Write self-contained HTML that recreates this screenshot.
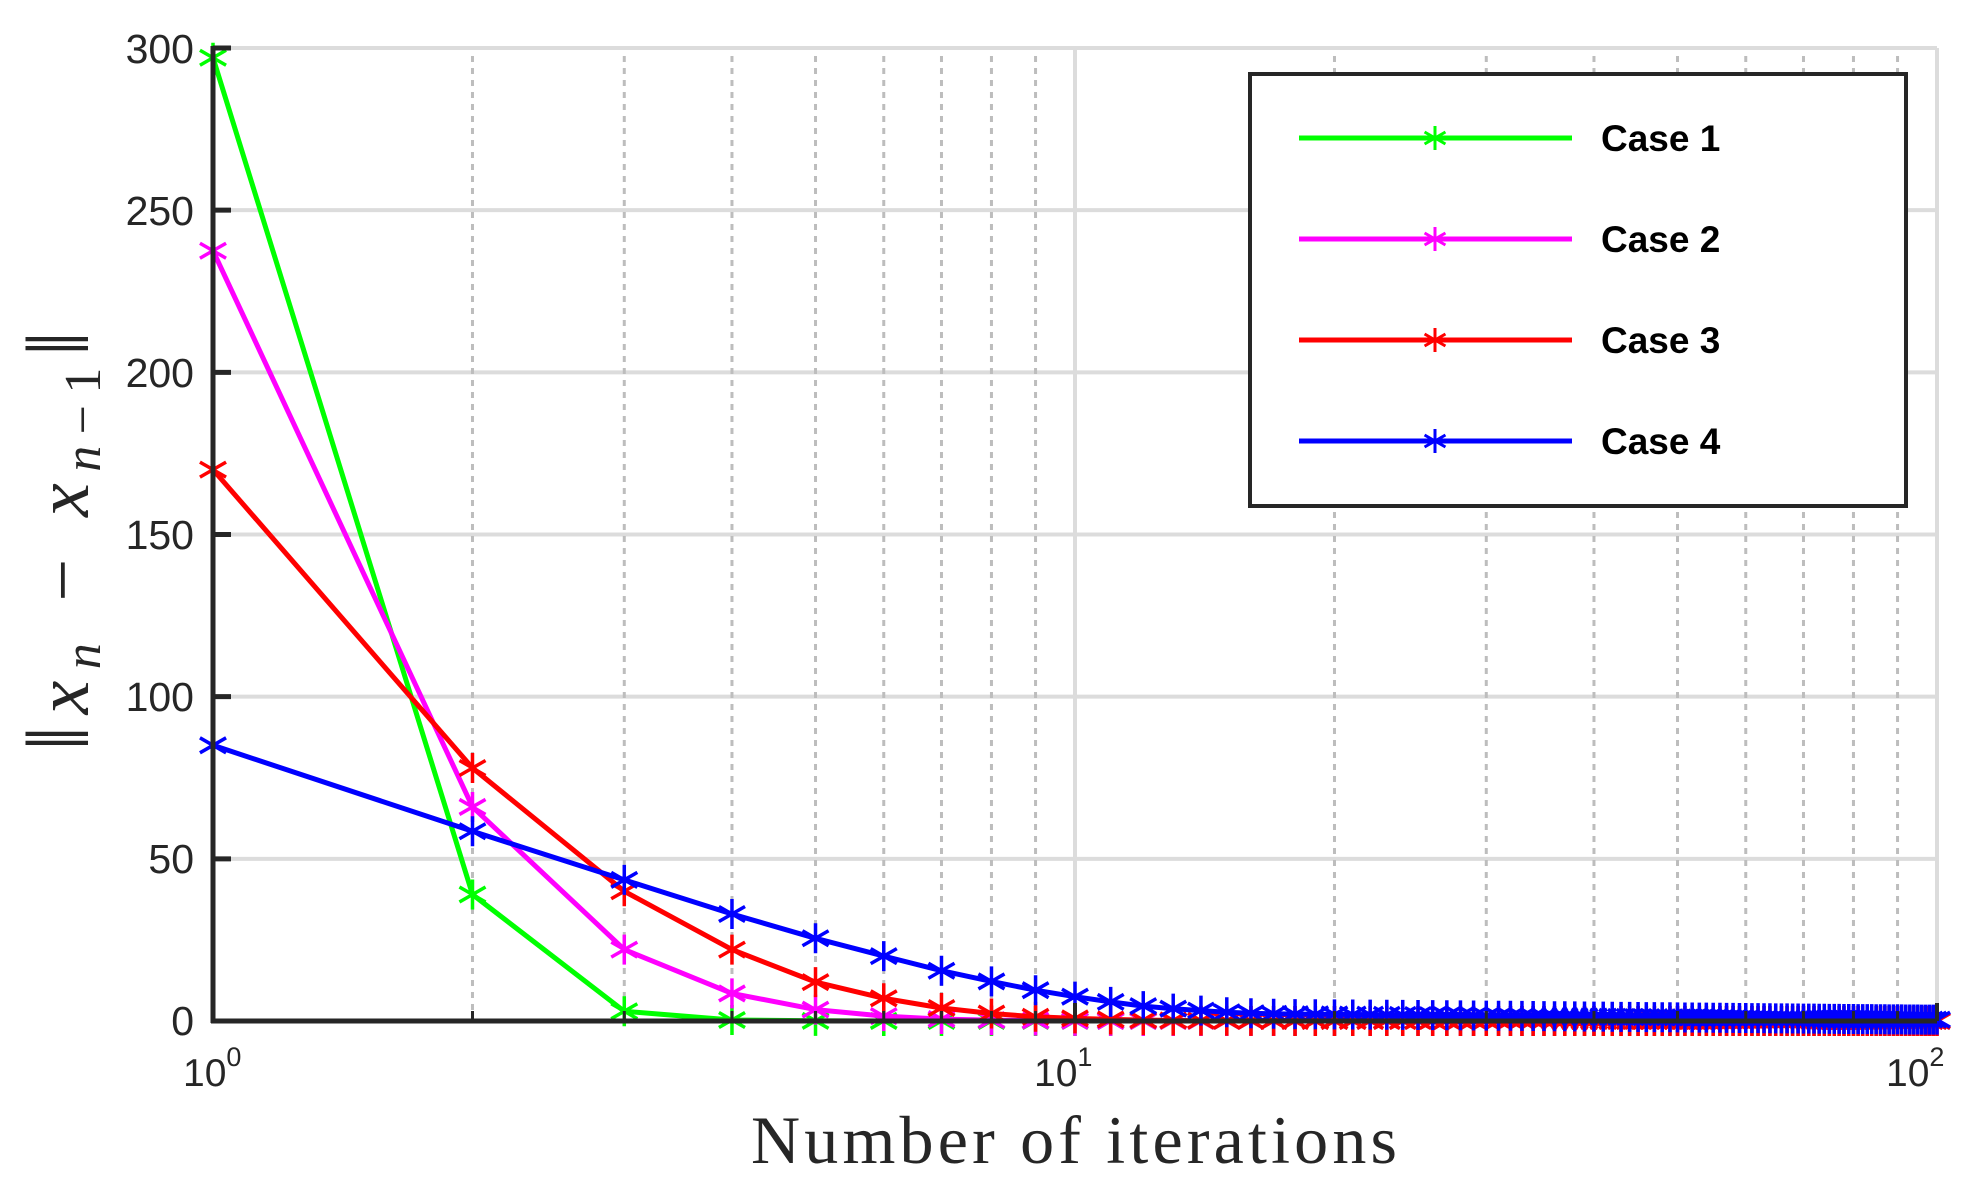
<!DOCTYPE html>
<html><head><meta charset="utf-8"><style>
html,body{margin:0;padding:0;background:#fff;}
svg{display:block;}
</style></head><body>
<svg id="s" width="1987" height="1201" viewBox="0 0 1987 1201" xmlns="http://www.w3.org/2000/svg">
<rect width="1987" height="1201" fill="#fff"/>
<g id="grid"></g>
<g id="series"></g>
<g id="axes"></g>
<g font-family="Liberation Sans, sans-serif" font-size="41" fill="#262626" text-anchor="end">
<text x="194" y="63">300</text>
<text x="194" y="225">250</text>
<text x="194" y="387">200</text>
<text x="194" y="549">150</text>
<text x="194" y="711">100</text>
<text x="194" y="873">50</text>
<text x="194" y="1035">0</text>
</g>
<g font-family="Liberation Sans, sans-serif" font-size="39" fill="#262626">
<text x="183" y="1086">10<tspan font-size="27" dy="-20">0</tspan></text>
<text x="1034" y="1086">10<tspan font-size="27" dy="-20">1</tspan></text>
<text x="1886" y="1086">10<tspan font-size="27" dy="-20">2</tspan></text>
</g>
<text x="1074" y="1163" font-family="Liberation Serif, serif" font-size="68" fill="#262626" text-anchor="middle" textLength="646">Number of iterations</text>
<text transform="translate(88,541) rotate(-90)" font-family="Liberation Serif, serif" font-size="76" fill="#262626" text-anchor="middle" textLength="420"><tspan font-size="90">‖</tspan><tspan font-style="italic">x</tspan><tspan font-style="italic" font-size="52" dy="12">n</tspan><tspan dy="-12"> − </tspan><tspan font-style="italic">x</tspan><tspan font-size="52" dy="12"><tspan font-style="italic">n</tspan>−1</tspan><tspan dy="-12" font-size="90">‖</tspan></text>
<g id="legend">
<rect x="1250" y="74" width="656" height="432" fill="#fff" stroke="#262626" stroke-width="4"/>
</g>
</svg>
<script>
var NS="http://www.w3.org/2000/svg";
function el(p,t,a){var e=document.createElementNS(NS,t);for(var k in a)e.setAttribute(k,a[k]);p.appendChild(e);return e;}
var L=213,R=1937,T=48,B=1021;
function X(t){return L+(R-L)*Math.log10(t)/2;}
function Y(v){return B-v*(B-T)/300;}
var g=document.getElementById('grid'),ax=document.getElementById('axes'),sr=document.getElementById('series');
for(var v=50;v<=300;v+=50)el(g,'line',{x1:L,x2:R,y1:Y(v),y2:Y(v),stroke:'#dcdcdc','stroke-width':4});
[10,100].forEach(function(t){el(g,'line',{x1:X(t),x2:X(t),y1:T,y2:B,stroke:'#dcdcdc','stroke-width':4});});
for(var d=1;d<=10;d*=10)for(var m=2;m<=9;m++){var x=X(m*d);el(g,'line',{x1:x,x2:x,y1:T+8,y2:B,stroke:'#bdbdbd','stroke-width':3,'stroke-dasharray':'6 6'});}
el(ax,'line',{x1:L,x2:L,y1:T-2,y2:B+2,stroke:'#262626','stroke-width':5});
el(ax,'line',{x1:L-2,x2:R,y1:B,y2:B,stroke:'#262626','stroke-width':5});
for(var v=0;v<=300;v+=50)el(ax,'line',{x1:L,x2:L+18,y1:Y(v),y2:Y(v),stroke:'#262626','stroke-width':5});
for(var d=1;d<=10;d*=10)for(var m=2;m<=9;m++){var x=X(m*d);el(ax,'line',{x1:x,x2:x,y1:B,y2:B-10,stroke:'#262626','stroke-width':3});}
[10,100].forEach(function(t){el(ax,'line',{x1:X(t),x2:X(t),y1:B,y2:B-18,stroke:'#262626','stroke-width':4});});
function gen(first,r,tail){var a=[];for(var n=1;n<=100;n++){var v=first.length>=n?first[n-1]:a[n-2]*r;a.push(v);}if(tail){for(var i=0;i<100;i++)a[i]=Math.max(a[i],tail*Math.pow(0.98,i));}return a;}
var data=[
{c:'#00ff00',d:gen([297,39,3,0.3,0.05],0.3)},
{c:'#ff00ff',d:gen([237.5,66,22,8.5,3.5,1.5,0.6],0.45)},
{c:'#ff0000',d:gen([170,78,40,22,12,7,4,2.3,1.3,0.8],0.6)},
{c:'#0000ff',d:gen([85,58.5,43.5,33,25.5,20,15.5,12.2,9.5,7.5,5.9,4.6,3.8,3.2,2.7,2.4],0.93,3)}
];
function star(p,x,y,c,s,w){var d='M'+x+' '+(y-s)+'V'+(y+s)+'M'+(x-s*0.87)+' '+(y-s*0.5)+'L'+(x+s*0.87)+' '+(y+s*0.5)+'M'+(x-s*0.87)+' '+(y+s*0.5)+'L'+(x+s*0.87)+' '+(y-s*0.5);el(p,'path',{d:d,stroke:c,'stroke-width':w,fill:'none'});}
data.forEach(function(s){var pts=s.d.map(function(v,i){return X(i+1).toFixed(1)+','+Y(v).toFixed(1);}).join(' ');
el(sr,'polyline',{points:pts,fill:'none',stroke:s.c,'stroke-width':5,'stroke-linejoin':'round'});
s.d.forEach(function(v,i){star(sr,X(i+1),Y(v),s.c,15,3.5);});});
var lg=document.getElementById('legend');
data.forEach(function(s,i){var y=138+i*101;
el(lg,'line',{x1:1299,x2:1572,y1:y,y2:y,stroke:s.c,'stroke-width':5});
star(lg,1435,y,s.c,12,3);
var t=el(lg,'text',{x:1601,y:y+13,'font-family':'Liberation Sans, sans-serif','font-size':37,'font-weight':'bold',fill:'#000'});t.textContent='Case '+(i+1);});
</script>
</body></html>
